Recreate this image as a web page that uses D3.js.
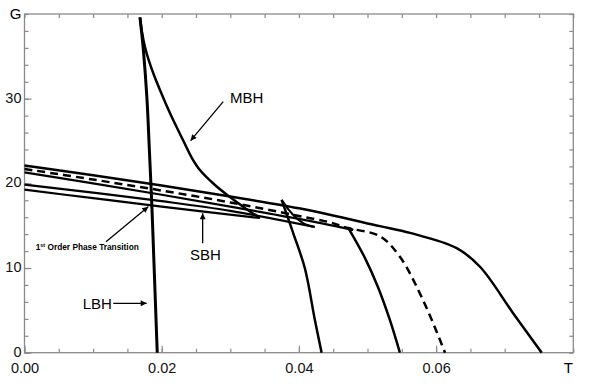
<!DOCTYPE html>
<html>
<head>
<meta charset="utf-8">
<script src="https://cdn.jsdelivr.net/npm/d3@7"></script>
<style>
body { margin: 0; background: #fff; }
svg { display: block; font-family: "Liberation Sans", Arial, Helvetica, sans-serif; }
</style>
</head>
<body>
<div id="chart"></div>
<script>

// each branch is a list of [T, G]
const topCurve = [[0,22.1],[0.01,20.95],[0.02,19.75],[0.03,18.45],[0.04,17.05],[0.0445,16.3],[0.0518,14.95],[0.0562,14.15],[0.063,12.35],[0.0664,10.15],[0.0712,4.7],[0.0754,0]]
const criticalCurve = [[0,21.7],[0.01,20.45],[0.02,19.15],[0.03,17.75],[0.04,16.15],[0.0445,15.4],[0.047,14.75],[0.0518,13.75],[0.0547,11.35],[0.0581,6.2],[0.0613,0]]

const sbh3 = [[0,21.3],[0.01,20.0],[0.02,18.65],[0.03,17.25],[0.04,15.8],[0.0479,14.5]]
const mbh3 = [[0.0479,14.5],[0.0472,14.75]]
const lbh3 = [[0.0472,14.75],[0.04962,11.2],[0.05152,7.77],[0.05326,3.87],[0.05472,0]]

const sbh2 = [[0,19.85],[0.01,18.9],[0.02,17.9],[0.03,16.75],[0.0423,14.85]]
const mbh2 = [[0.0423,14.85],[0.0411,15.1],[0.0395,16.0],[0.0385,16.9],[0.03748,18.05]]
const lbh2 = [[0.03748,18.05],[0.03917,14.12],[0.04087,9.97],[0.04233,3.86],[0.04331,0]]

const sbh1 = [[0,19.25],[0.01,18.25],[0.02,17.25],[0.0343,15.91]]
const mbh1 = [[0.03432,15.91],[0.03213,17.09],[0.02995,18.38],[0.02776,19.8],[0.02557,21.57],[0.02441,22.99],[0.0231,25.12],[0.0212,28.31],[0.01975,31.03],[0.01887,32.8],[0.01814,34.46],[0.01756,36.1],[0.01712,37.87],[0.01683,39.6]]
const lbh1 = [[0.01683,39.6],[0.01731,35.9],[0.01785,30],[0.0182,24],[0.01858,17],[0.0189,10],[0.01935,0]]

const xMajor = [0, 0.02, 0.04, 0.06]
const xMinor = d3.range(0, 17).map(i => i * 0.005)
const yMajor = [0, 10, 20, 30]
const yMinor = d3.range(0, 21).map(i => i * 2)

// annotations, in T/G units
const labels = [
    {text: 'MBH', at: [0.02995, 29.45]},
    {text: 'SBH', at: [0.02412, 10.95]},
    {text: 'LBH', at: [0.00848, 5.2]}
]
const arrows = [
    {from: [0.02897, 29.65], to: [0.02421, 25.04]},
    {from: [0.02597, 12.92], to: [0.02597, 16.46]},
    {from: [0.01294, 5.83], to: [0.01781, 5.83]},
    {from: [0.01188, 13.11], to: [0.01804, 17.24]}
]
const transitionLabelAt = [0.00163, 12.07]

const width = 589
const height = 387

const x = d3.scaleLinear().domain([0, 0.08]).range([24.5, 573.3])
const y = d3.scaleLinear().domain([0, 40]).range([352.7, 14])

const svg = d3.select('#chart')
.append('svg')
.attr('width', width)
.attr('height', height)

svg.append('defs')
.append('marker')
.attr('id', 'head')
.attr('viewBox', '0 0 10 10')
.attr('refX', 10)
.attr('refY', 5)
.attr('markerWidth', 7)
.attr('markerHeight', 6)
.attr('markerUnits', 'userSpaceOnUse')
.attr('orient', 'auto')
.append('path')
.attr('d', 'M0,0L10,5L0,10z')
.attr('fill', '#000')

const axisColor = '#8a8a8a'

const styleAxis = g => {
    g.select('.domain').remove()
    g.selectAll('.tick line').attr('stroke', axisColor).attr('stroke-width', 1.2)
    g.selectAll('text').attr('fill', '#111').style('font-size', '14.5px').style('font-family', '"Liberation Sans", Arial, sans-serif')
}

// minor ticks all round
svg.append('g').attr('transform', `translate(0,${y(0)})`)
.call(d3.axisBottom(x).tickValues(xMinor).tickSize(-4).tickFormat(''))
.call(styleAxis)
svg.append('g').attr('transform', `translate(0,${y(40)})`)
.call(d3.axisTop(x).tickValues(xMinor).tickSize(-4).tickFormat(''))
.call(styleAxis)
svg.append('g').attr('transform', `translate(${x(0)},0)`)
.call(d3.axisLeft(y).tickValues(yMinor).tickSize(-4).tickFormat(''))
.call(styleAxis)
svg.append('g').attr('transform', `translate(${x(0.08)},0)`)
.call(d3.axisRight(y).tickValues(yMinor).tickSize(-4).tickFormat(''))
.call(styleAxis)

// labelled ticks
svg.append('g').attr('transform', `translate(0,${y(0)})`)
.call(d3.axisBottom(x).tickValues(xMajor).tickSize(-7).tickPadding(10).tickFormat(d3.format('.2f')))
.call(styleAxis)
svg.append('g').attr('transform', `translate(${x(0)},0)`)
.call(d3.axisLeft(y).tickValues(yMajor).tickSize(-7).tickPadding(3).tickFormat(d3.format('d')))
.call(styleAxis)
.selectAll('text').attr('dy', '0.25em')

svg.append('rect')
.attr('x', x(0))
.attr('y', y(40))
.attr('width', x(0.08) - x(0))
.attr('height', y(0) - y(40))
.attr('fill', 'none')
.attr('stroke', axisColor)
.attr('stroke-width', 1.3)

svg.append('text')
.attr('x', x(0) - 3)
.attr('y', y(40))
.attr('dy', '0.35em')
.attr('text-anchor', 'end')
.style('font-size', '15px')
.text('G')

svg.append('text')
.attr('x', x(0.08) - 5)
.attr('y', y(0) + 10)
.attr('dy', '0.71em')
.attr('text-anchor', 'middle')
.style('font-size', '15px')
.text('T')

const line = d3.line()
.x(d => x(d[0]))
.y(d => y(d[1]))
.curve(d3.curveCatmullRom.alpha(0.5))

const curves = [
    {pts: topCurve, w: 2.5},
    {pts: criticalCurve, w: 2.5, dash: '8,5'},
    {pts: sbh3, w: 2.2}, {pts: mbh3, w: 2.2}, {pts: lbh3, w: 2.5},
    {pts: sbh2, w: 2.2}, {pts: mbh2, w: 2.2}, {pts: lbh2, w: 2.5},
    {pts: sbh1, w: 2.2}, {pts: mbh1, w: 2.5}, {pts: lbh1, w: 3}
]

svg.append('g')
.selectAll('path')
.data(curves)
.enter()
.append('path')
.attr('d', d => line(d.pts))
.attr('fill', 'none')
.attr('stroke', '#000')
.attr('stroke-width', d => d.w)
.attr('stroke-dasharray', d => d.dash || null)
.attr('stroke-linejoin', 'round')

svg.append('g')
.selectAll('line')
.data(arrows)
.enter()
.append('line')
.attr('x1', d => x(d.from[0]))
.attr('y1', d => y(d.from[1]))
.attr('x2', d => x(d.to[0]))
.attr('y2', d => y(d.to[1]))
.attr('stroke', '#000')
.attr('stroke-width', 1.3)
.attr('marker-end', 'url(#head)')

svg.append('g')
.selectAll('text')
.data(labels)
.enter()
.append('text')
.attr('x', d => x(d.at[0]))
.attr('y', d => y(d.at[1]))
.style('font-size', '15px')
.text(d => d.text)

const tr = svg.append('text')
.attr('x', x(transitionLabelAt[0]))
.attr('y', y(transitionLabelAt[1]))
.style('font-size', '8.3px')
.style('font-weight', 'bold')

tr.append('tspan').text('1')
tr.append('tspan').attr('dy', -3).style('font-size', '5.5px').text('st')
tr.append('tspan').attr('dy', 3).text(' Order Phase Transition')

</script>
</body>
</html>
